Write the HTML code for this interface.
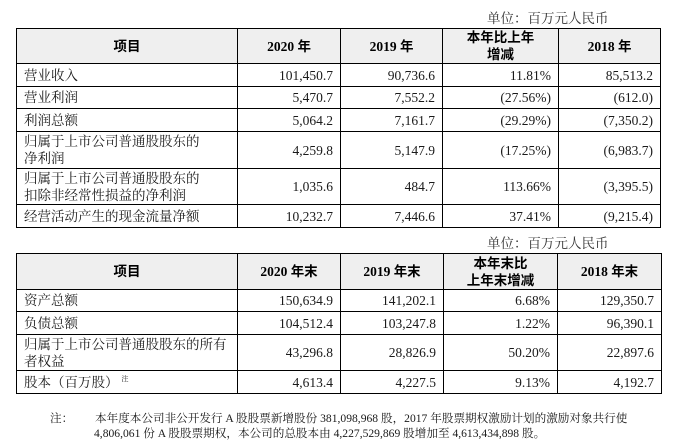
<!DOCTYPE html>
<html><head><meta charset="utf-8">
<style>
html,body{margin:0;padding:0;background:#fff;}
body{width:679px;height:447px;position:relative;overflow:hidden;
 font-family:"Liberation Serif","Noto Serif CJK SC",serif;font-size:13.5px;color:#1a1a1a;}
.unit{position:absolute;left:487px;line-height:18px;white-space:nowrap;color:#333;}
.grid{position:absolute;left:16px;display:grid;border-left:1px solid #000;border-top:1px solid #000;}
.grid>div{box-sizing:border-box;border-right:1px solid #000;border-bottom:1px solid #000;
 display:flex;align-items:center;line-height:17px;white-space:nowrap;}
.h{background:#efefef;justify-content:center;text-align:center;font-weight:bold;
 font-family:"Liberation Serif","Noto Sans CJK SC",sans-serif;color:#000;}
.l{justify-content:flex-start;padding-left:7px;}
.r{justify-content:flex-end;padding-right:7px;}
.g1{top:28px;grid-template-columns:221px 103px 102px 116px 102px;grid-template-rows:35px 23px 22px 23px 37px 36px 23px;}
.g2{top:253px;grid-template-columns:221px 103px 103px 114px 104px;grid-template-rows:36px 22px 23px 36px 23px;}
sup{font-size:7px;vertical-align:top;position:relative;top:-3px;margin-left:3px;}
.note{position:absolute;font-size:11.6px;line-height:16px;white-space:nowrap;color:#1a1a1a;}
</style></head><body>
<div class="unit" style="top:10px;">单位：百万元人民币</div>
<div class="grid g1">
 <div class="h">项目</div><div class="h">2020 年</div><div class="h">2019 年</div><div class="h">本年比上年<br>增减</div><div class="h">2018 年</div>
 <div class="l">营业收入</div><div class="r">101,450.7</div><div class="r">90,736.6</div><div class="r">11.81%</div><div class="r">85,513.2</div>
 <div class="l">营业利润</div><div class="r">5,470.7</div><div class="r">7,552.2</div><div class="r">(27.56%)</div><div class="r">(612.0)</div>
 <div class="l">利润总额</div><div class="r">5,064.2</div><div class="r">7,161.7</div><div class="r">(29.29%)</div><div class="r">(7,350.2)</div>
 <div class="l">归属于上市公司普通股股东的<br>净利润</div><div class="r">4,259.8</div><div class="r">5,147.9</div><div class="r">(17.25%)</div><div class="r">(6,983.7)</div>
 <div class="l">归属于上市公司普通股股东的<br>扣除非经常性损益的净利润</div><div class="r">1,035.6</div><div class="r">484.7</div><div class="r">113.66%</div><div class="r">(3,395.5)</div>
 <div class="l">经营活动产生的现金流量净额</div><div class="r">10,232.7</div><div class="r">7,446.6</div><div class="r">37.41%</div><div class="r">(9,215.4)</div>
</div>
<div class="unit" style="top:235px;">单位：百万元人民币</div>
<div class="grid g2">
 <div class="h">项目</div><div class="h">2020 年末</div><div class="h">2019 年末</div><div class="h">本年末比<br>上年末增减</div><div class="h">2018 年末</div>
 <div class="l">资产总额</div><div class="r">150,634.9</div><div class="r">141,202.1</div><div class="r">6.68%</div><div class="r">129,350.7</div>
 <div class="l">负债总额</div><div class="r">104,512.4</div><div class="r">103,247.8</div><div class="r">1.22%</div><div class="r">96,390.1</div>
 <div class="l">归属于上市公司普通股股东的所有<br>者权益</div><div class="r">43,296.8</div><div class="r">28,826.9</div><div class="r">50.20%</div><div class="r">22,897.6</div>
 <div class="l">股本（百万股）<sup>注</sup></div><div class="r">4,613.4</div><div class="r">4,227.5</div><div class="r">9.13%</div><div class="r">4,192.7</div>
</div>
<div class="note" style="left:50px;top:411px;">注：</div>
<div class="note" style="left:95px;top:411px;">本年度本公司非公开发行 A 股股票新增股份 381,098,968 股，2017 年股票期权激励计划的激励对象共行使</div>
<div class="note" style="left:94px;top:426px;">4,806,061 份 A 股股票期权，本公司的总股本由 4,227,529,869 股增加至 4,613,434,898 股。</div>
</body></html>
